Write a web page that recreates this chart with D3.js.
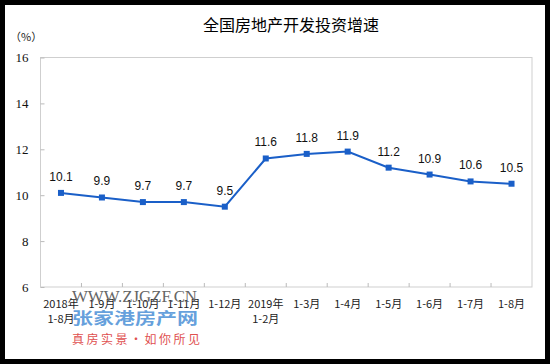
<!DOCTYPE html>
<html>
<head>
<meta charset="utf-8">
<script src="https://cdn.jsdelivr.net/npm/d3@7"></script>
<style>
  html, body { margin: 0; padding: 0; background: #000; }
  svg { display: block; }
</style>
</head>
<body>
<script>
// chart values
const categories = ["2018年|1-8月", "1-9月", "1-10月", "1-11月", "1-12月", "2019年|1-2月",
  "1-3月", "1-4月", "1-5月", "1-6月", "1-7月", "1-8月"];
const growth = [10.1, 9.9, 9.7, 9.7, 9.5, 11.6, 11.8, 11.9, 11.2, 10.9, 10.6, 10.5];
const yTicks = [6, 8, 10, 12, 14, 16];

const width = 550;
const height = 364;
const margin = { top: 57.5, right: 18, bottom: 77, left: 40.5 };
const blue = "#1a5fc8";

const svg = d3.select("body")
  .append("svg")
  .attr("width", width)
  .attr("height", height)
  .attr("viewBox", [0, 0, width, height]);

// black frame round a white card
svg.append("rect").attr("width", width).attr("height", height).attr("fill", "#000");
svg.append("rect").attr("x", 5).attr("y", 5).attr("width", 540).attr("height", 354).attr("fill", "#fff");

const xScale = d3.scaleBand()
  .domain(categories)
  .range([margin.left, width - margin.right]);
const yScale = d3.scaleLinear()
  .domain([6, 16])
  .range([height - margin.bottom, margin.top]);

// title and unit
svg.append("text")
  .attr("x", 291).attr("y", 31)
  .attr("text-anchor", "middle")
  .style("font-family", "'Noto Sans CJK SC', sans-serif")
  .style("font-size", "16px")
  .text("全国房地产开发投资增速");

svg.append("text")
  .attr("x", 10).attr("y", 41)
  .style("font-family", "'Noto Sans CJK SC', sans-serif")
  .style("font-size", "11px")
  .attr("fill", "#222")
  .text("（%）");

// plot frame
svg.append("rect")
  .attr("x", margin.left).attr("y", margin.top)
  .attr("width", width - margin.right - margin.left)
  .attr("height", height - margin.bottom - margin.top)
  .attr("fill", "none")
  .attr("stroke", "#cfcfcf");

// y axis, ticks pointing into the plot
const yAxis = d3.axisLeft(yScale).tickValues(yTicks).tickSize(-4).tickPadding(12).tickFormat(d3.format("d"));
svg.append("g")
  .attr("transform", `translate(${margin.left},0)`)
  .call(yAxis)
  .call(g => g.select(".domain").remove())
  .call(g => g.selectAll(".tick line").attr("stroke", "#bbb"))
  .call(g => g.selectAll(".tick text")
    .attr("fill", "#111")
    .style("font-family", "'Liberation Serif', serif")
    .style("font-size", "13px"));

// x axis ticks at band edges
const xEdges = categories.slice(1).map(c => xScale(c));
svg.append("g")
  .selectAll("line")
  .data(xEdges)
  .join("line")
  .attr("x1", d => d).attr("x2", d => d)
  .attr("y1", yScale(6)).attr("y2", yScale(6) - 4)
  .attr("stroke", "#bbb");

// category labels
const xLabels = svg.append("g")
  .style("font-family", "'Noto Sans CJK SC', sans-serif")
  .style("font-size", "11px")
  .attr("fill", "#222")
  .attr("text-anchor", "middle");
categories.forEach(c => {
  const lines = c.split("|");
  const t = xLabels.append("text")
    .attr("x", xScale(c) + xScale.bandwidth() / 2)
    .attr("y", 308);
  lines.forEach((l, i) => {
    t.append("tspan")
      .attr("x", xScale(c) + xScale.bandwidth() / 2)
      .attr("dy", i === 0 ? 0 : 15)
      .text(l);
  });
});

// line and markers
const pts = categories.map((c, i) => ({ cat: c, v: growth[i] }));
const line = d3.line()
  .x(d => xScale(d.cat) + xScale.bandwidth() / 2)
  .y(d => yScale(d.v));

svg.append("path")
  .attr("d", line(pts))
  .attr("fill", "none")
  .attr("stroke", blue)
  .attr("stroke-width", 2);

svg.append("g")
  .selectAll("rect")
  .data(pts)
  .join("rect")
  .attr("x", d => xScale(d.cat) + xScale.bandwidth() / 2 - 3)
  .attr("y", d => yScale(d.v) - 3)
  .attr("width", 6)
  .attr("height", 6)
  .attr("fill", blue);

svg.append("g")
  .selectAll("text")
  .data(pts)
  .join("text")
  .attr("x", d => xScale(d.cat) + xScale.bandwidth() / 2)
  .attr("y", d => yScale(d.v) - 12)
  .attr("text-anchor", "middle")
  .style("font-family", "'Liberation Sans', Arial, sans-serif")
  .style("font-size", "12px")
  .attr("fill", "#111")
  .text(d => d.v.toFixed(1));

// watermark overlay
const wm = svg.append("g").attr("pointer-events", "none");
wm.append("text")
  .attr("x", 72).attr("y", 302)
  .attr("textLength", 125)
  .attr("lengthAdjust", "spacingAndGlyphs")
  .style("font-family", "'Liberation Serif', serif")
  .style("font-size", "16px")
  .attr("fill", "#666")
  .text("WWW.ZJGZF.CN");
wm.append("text")
  .attr("x", 72).attr("y", 324)
  .attr("textLength", 126)
  .attr("lengthAdjust", "spacingAndGlyphs")
  .style("font-family", "'Noto Sans CJK SC', sans-serif")
  .style("font-size", "16px")
  .style("font-weight", "bold")
  .attr("fill", "#4a8fd6")
  .attr("fill-opacity", 0.85)
  .text("张家港房产网");
wm.append("text")
  .attr("x", 72).attr("y", 344)
  .attr("textLength", 128)
  .style("font-family", "'Noto Sans CJK SC', sans-serif")
  .style("font-size", "12px")
  .attr("fill", "#e0504f")
  .text("真房实景·如你所见");
</script>
</body>
</html>
